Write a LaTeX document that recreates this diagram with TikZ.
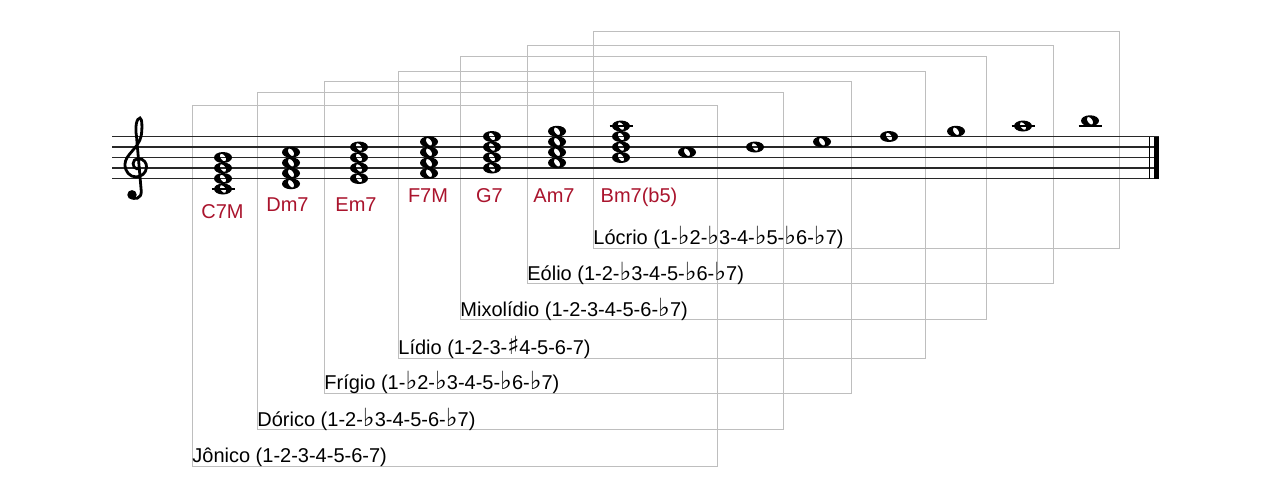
\documentclass[tikz,border=0pt]{standalone}
\usepackage{fontspec}
\setmainfont{Liberation Sans}
\newfontfamily\musicfont{DejaVu Sans}
\usetikzlibrary{positioning}
\definecolor{chordred}{RGB}{170,20,45}
\definecolor{boxgray}{RGB}{190,190,190}
\definecolor{staffgray}{RGB}{40,40,40}
\newcommand{\bemol}{{\musicfont\fontsize{12.5}{12.5}\selectfont ♭}}
\newcommand{\sustenido}{{\musicfont\fontsize{12.5}{12.5}\selectfont ♯}}
% whole note at (x,y)
\newcommand{\wnote}[2]{%
  \begin{scope}[shift={(#1,#2)}]
    \fill[even odd rule] (0,0) ellipse (9 and 5.5) [rotate=-55] (0,0) ellipse (4.3 and 2.5);
  \end{scope}}

\begin{document}
\begin{tikzpicture}[x=0.5pt,y=-0.5pt,
    modebox/.style={draw=boxgray,line width=0.5pt},
    staffline/.style={draw=staffgray,line width=0.8pt},
    ledger/.style={draw=black,line width=0.8pt},
    modelabel/.style={anchor=base west,inner sep=0pt},
    chordlabel/.style={anchor=base,inner sep=0pt,text=chordred}]
    \useasboundingbox[fill=white] (0,0) rectangle (1280,500);

    % frames of the modes
    \draw[modebox] (192,105) rectangle (717,466);
    \draw[modebox] (257,92) rectangle (783,429.5);
    \draw[modebox] (324,81) rectangle (851,393);
    \draw[modebox] (398,71) rectangle (925,358);
    \draw[modebox] (460,56) rectangle (986,319.5);
    \draw[modebox] (527,45) rectangle (1053,283.5);
    \draw[modebox] (593,31) rectangle (1119,248);

    \node[modelabel] (jonico) at (192,462.5) {Jônico (1-2-3-4-5-6-7)};
    \node[modelabel] (dorico) at (257,426) {Dórico (1-2-\bemol3-4-5-6-\bemol7)};
    \node[modelabel] (frigio) at (324,389.5) {Frígio (1-\bemol2-\bemol3-4-5-\bemol6-\bemol7)};
    \node[modelabel] (lidio) at (398,354.5) {Lídio (1-2-3-\sustenido4-5-6-7)};
    \node[modelabel] (mixolidio) at (460,316) {Mixolídio (1-2-3-4-5-6-\bemol7)};
    \node[modelabel] (eolio) at (527,280) {Eólio (1-2-\bemol3-4-5-\bemol6-\bemol7)};
    \node[modelabel] (locrio) at (593,244.7) {Lócrio (1-\bemol2-\bemol3-4-\bemol5-\bemol6-\bemol7)};

    % staff
    \foreach \y in {136.5,147,157.5,168,178.5}
        \draw[staffline] (112,\y) -- (1159,\y);
    \draw[line width=0.6pt] (1149.3,136.5) -- (1149.3,178.5);
    \fill (1154.3,136.5) rectangle (1159.3,178.5);

    % treble clef
    \begin{scope}[shift={(136,168)},x=5.25pt,y=5.25pt]
        \draw[line width=1.4pt,line cap=round]
            (0.15,-0.1) .. controls (-0.45,-0.05) and (-0.4,0.9) .. (0.2,0.9)
            .. controls (0.75,0.9) and (1.05,0.45) .. (1.0,0.05)
            .. controls (0.95,-0.5) and (0.5,-0.85) .. (0.0,-0.85)
            .. controls (-0.6,-0.85) and (-1.05,-0.35) .. (-1.05,0.35)
            .. controls (-1.05,1.3) and (0.3,1.9) .. (0.5,3.1)
            .. controls (0.6,3.7) and (0.6,4.76) .. (0.38,4.76)
            .. controls (0.05,4.76) and (-0.1,3.9) .. (0.05,3.0)
            -- (0.5,-2.2)
            .. controls (0.55,-2.95) and (-0.2,-3.05) .. (-0.5,-2.75);
        \fill (-0.38,-2.55) circle (0.45);
    \end{scope}

    % chords
    \draw[ledger] (211.5,189) -- (234.5,189);
    \wnote{223}{189}\wnote{223}{178.5}\wnote{223}{168}\wnote{223}{157.5}
    \wnote{291}{183.75}\wnote{291}{173.25}\wnote{291}{162.75}\wnote{291}{152.25}
    \wnote{359}{178.5}\wnote{359}{168}\wnote{359}{157.5}\wnote{359}{147}
    \wnote{429}{173.25}\wnote{429}{162.75}\wnote{429}{152.25}\wnote{429}{141.75}
    \wnote{492}{168}\wnote{492}{157.5}\wnote{492}{147}\wnote{492}{136.5}
    \wnote{557}{162.75}\wnote{557}{152.25}\wnote{557}{141.75}\wnote{557}{131.25}
    \draw[ledger] (609.5,126) -- (632.5,126);
    \wnote{621}{157.5}\wnote{621}{147}\wnote{621}{136.5}\wnote{621}{126}

    \node[chordlabel] (cmaj) at (222.5,218.7) {C7M};
    \node[chordlabel] (dmin) at (287.5,211.7) {Dm7};
    \node[chordlabel] (emin) at (356,211.7) {Em7};
    \node[chordlabel] (fmaj) at (428,202.3) {F7M};
    \node[chordlabel] (gdom) at (489.5,202.3) {G7};
    \node[chordlabel] (amin) at (554,202.3) {Am7};
    \node[chordlabel] (bdim) at (639,202.3) {Bm7(b5)};

    % scale notes
    \wnote{687}{152.25}
    \wnote{755}{147}
    \wnote{822}{141.75}
    \wnote{889}{136.5}
    \wnote{956}{131.25}
    \draw[ledger] (1011.5,126) -- (1034.5,126);
    \wnote{1023}{126}
    \draw[ledger] (1078.5,126) -- (1101.5,126);
    \wnote{1090}{120.75}
\end{tikzpicture}
\end{document}
